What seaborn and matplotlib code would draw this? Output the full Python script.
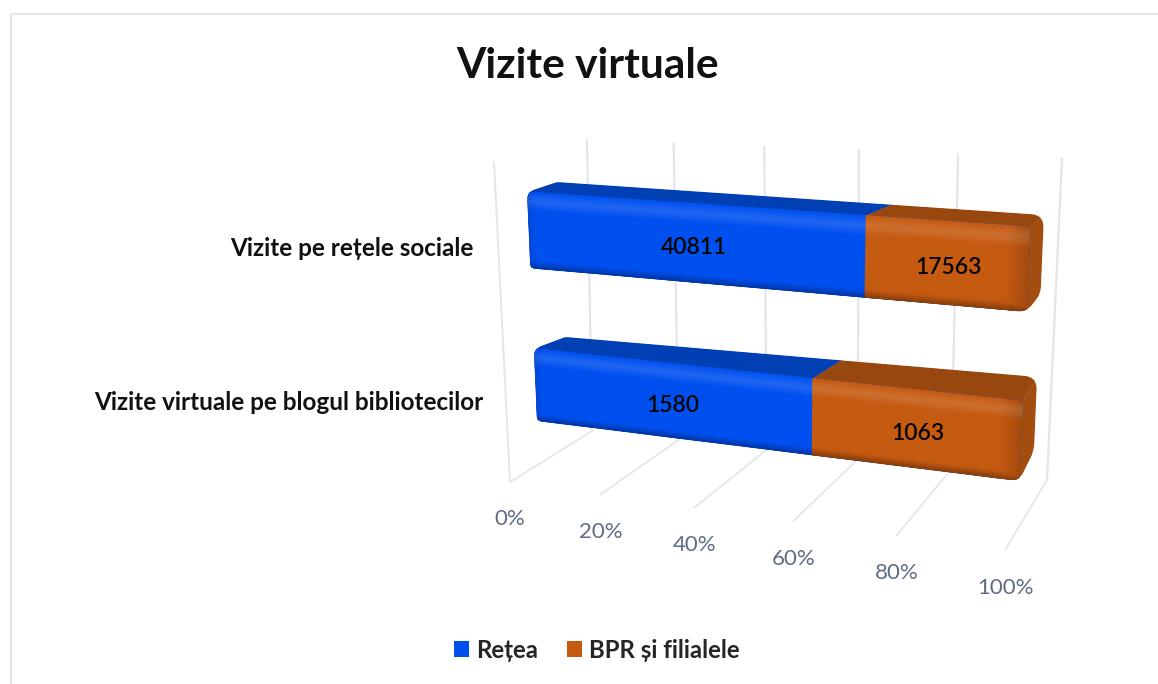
import numpy as np
import pandas as pd
import matplotlib
matplotlib.use("Agg")
import matplotlib.pyplot as plt
import matplotlib.colors as mcolors
import matplotlib.transforms as mtrans
from matplotlib.collections import QuadMesh
from matplotlib.path import Path
from matplotlib.patches import Polygon
import seaborn as sns

categories = ["Vizite pe rețele sociale", "Vizite virtuale pe blogul bibliotecilor"]
retea = [40811, 1580]
bpr = [17563, 1063]
series_names = ["Rețea", "BPR și filialele"]
tick_values = [0, 20, 40, 60, 80, 100]
tick_labels = ["0%", "20%", "40%", "60%", "80%", "100%"]
title = "Vizite virtuale"

W, H = 1158, 684
BLUE, ORANGE = "#0050F0", "#C55A11"
BLUE_TOP, ORANGE_TOP = "#0040B4", "#98480F"
ORANGE_SIDE = "#A34E10"
GRID = "#E2E5EB"
TICK = "#5E6C82"
BAR_W = 0.48
FONT = "Lato"


class Persp(mtrans.Transform):
    input_dims = output_dims = 2
    is_separable = False
    has_inverse = False

    def __init__(self, src, dst):
        super().__init__()
        A, b = [], []
        for (x, y), (X, Y) in zip(src, dst):
            Y = H - Y
            A.append([x, y, 1, 0, 0, 0, -x * X, -y * X]); b.append(X)
            A.append([0, 0, 0, x, y, 1, -x * Y, -y * Y]); b.append(Y)
        self.m = np.append(np.linalg.solve(np.array(A, float), np.array(b, float)), 1).reshape(3, 3)

    def transform_non_affine(self, v):
        v = np.asarray(v, float).reshape(-1, 2)
        q = np.c_[v, np.ones(len(v))] @ self.m.T
        return q[:, :2] / q[:, 2:]


y0, y1 = -BAR_W / 2, 1 + BAR_W / 2
corners = [(0, y0), (100, y0), (0, y1), (100, y1)]
front = Persp(corners, [(527, 192), (1030, 227), (537, 421), (1019, 481)])
rear = Persp(corners, [(557, 182), (1044, 215), (569, 408), (1034, 451)])


def proj(p, y, d):
    a = front.transform(np.array([[p, y]]))[0]
    b = rear.transform(np.array([[p, y]]))[0]
    return (1 - d) * a + d * b


def rounded(pts, radii):
    verts, codes = [], []
    n = len(pts)
    for i in range(n):
        c = np.asarray(pts[i])
        a = np.asarray(pts[i - 1])
        b = np.asarray(pts[(i + 1) % n])
        r = radii[i]
        s = c + (a - c) / np.linalg.norm(a - c) * r
        e = c + (b - c) / np.linalg.norm(b - c) * r
        verts += [s, c, e]
        codes += [Path.MOVETO if i == 0 else Path.LINETO, Path.CURVE3, Path.CURVE3]
    verts.append(verts[0])
    codes.append(Path.CLOSEPOLY)
    return Path(np.array(verts), codes)


def lerp_p(a, b, p, w=1.12):
    f = p / 100
    u = f / (f + w * (1 - f))
    return np.asarray(a) + (np.asarray(b) - np.asarray(a)) * u


def px(pt):
    return (pt[0], H - pt[1])


sns.set_theme(style="white")
plt.rcParams["font.family"] = [FONT, "DejaVu Sans"]
fig = plt.figure(figsize=(W / 100, H / 100), dpi=100, facecolor="white")
ax = fig.add_axes([0, 0, 1, 1])

total = np.array(retea) + np.array(bpr)
df = pd.DataFrame({"cat": categories,
                   "share": 100 * np.array(retea) / total,
                   "full": 100 * (np.array(retea) + np.array(bpr)) / total})

sns.barplot(data=df, y="cat", x="full", color=ORANGE, saturation=1, width=BAR_W,
            ax=ax, label=series_names[1], zorder=3, linewidth=0, edgecolor="none")
sns.barplot(data=df, y="cat", x="share", color=BLUE, saturation=1, width=BAR_W,
            ax=ax, label=series_names[0], zorder=3.1, linewidth=0, edgecolor="none")
ax.set_xlim(0, 100)
ax.set_ylim(2, -1)
ax.set_axis_off()

idt = mtrans.IdentityTransform()
rects = list(ax.patches)
n_cat = len(categories)
orange_rects, blue_rects = rects[:n_cat], rects[n_cat:]

# frame
for a, b in [((10.5, 14), (1158, 14)), ((10.5, 14), (10.5, 684))]:
    ax.plot(*zip(px(a), px(b)), color="#E4E6EA", lw=1.6, transform=idt, clip_on=False, zorder=0.5)

# wall and floor lines
F0, F1 = (510, 482), (1005, 550)
B0, B1 = (592, 431), (1047, 480)
T0, T1 = (587, 140), (1062, 158)
for v in tick_values:
    f = lerp_p(F0, F1, v); b = lerp_p(B0, B1, v, 1.07); t = lerp_p(T0, T1, v, 1.12)
    ax.plot(*zip(px(f), px(b)), color=GRID, lw=1.2, transform=idt, clip_on=False, zorder=1)
    ax.plot(*zip(px(b), px(t)), color=GRID, lw=1.6, transform=idt, clip_on=False, zorder=1)
ax.plot(*zip(px((494, 162)), px(F0)), color=GRID, lw=1.4, transform=idt, clip_on=False, zorder=1)

# tick labels
L0, L1 = (510, 519), (1005, 588)
for v, s in zip(tick_values, tick_labels):
    lp = lerp_p(L0, L1, v)
    ax.text(*px(lp), s, transform=idt, ha="center", va="center", fontsize=16,
            color=TICK, zorder=5)


def bevel_mesh(p0, p1, yt, yb, full, base):
    """Opaque shaded front face of one bar segment."""
    xe = np.unique(np.r_[np.linspace(p0, p1, 3),
                         np.linspace(0, 2, 5)[(np.linspace(0, 2, 5) >= p0) & (np.linspace(0, 2, 5) <= p1)],
                         np.linspace(full - 4, full, 5)[(np.linspace(full - 4, full, 5) >= p0)]])
    ye = np.r_[yt + (yb - yt) * np.array([0, .04, .08, .12, .16, .20, .24, .30, .85, .88, .91, .94, .97, 1.0])]
    XX, YY = np.meshgrid(xe, ye)
    TT = (YY - yt) / (yb - yt)
    white = 0.12 * np.clip(TT / 0.10, 0, 1) * np.clip((0.24 - TT) / 0.10, 0, 1)
    dark = np.maximum.reduce([0.32 * np.clip((TT - 0.90) / 0.10, 0, 1),
                              0.10 * np.clip((2 - XX) / 2, 0, 1),
                              0.16 * np.clip((XX - (full - 4)) / 4, 0, 1)])
    rgb = np.array(mcolors.to_rgb(base))
    col = rgb[None, None, :] * (1 - white - dark)[..., None] + white[..., None]
    rgba = np.dstack([col, np.ones(XX.shape)])
    mesh = QuadMesh(np.dstack([XX, YY]), shading="gouraud", transform=front, array=rgba, zorder=3.3)
    ax.add_collection(mesh, autolim=False)
    return mesh


# bars
for i, (ro, rb) in enumerate(zip(orange_rects, blue_rects)):
    yt = ro.get_y()
    yb = yt + ro.get_height()
    share = rb.get_width()
    full = ro.get_width()
    sil = rounded([proj(0, yt, 0), proj(0, yt, 1), proj(full, yt, 1), proj(full, yb, 1),
                   proj(full, yb, 0), proj(0, yb, 0)], [8, 3, 13, 8, 9, 5])
    art = []
    ro.set_transform(front); rb.set_transform(front)
    art += [ro, rb]
    for p0, p1, c in [(0, share, BLUE_TOP), (share, full, ORANGE_TOP)]:
        poly = Polygon([proj(p0, yt, 0), proj(p1, yt, 0), proj(p1, yt, 1), proj(p0, yt, 1)],
                       closed=True, fc=c, ec=c, lw=0.3, transform=idt, zorder=3.2)
        ax.add_patch(poly); art.append(poly)
    side = Polygon([proj(full, yt, 0), proj(full, yt, 1), proj(full, yb, 1), proj(full, yb, 0)],
                   closed=True, fc=ORANGE_SIDE, ec=ORANGE_SIDE, lw=0.3, transform=idt, zorder=3.2)
    ax.add_patch(side); art.append(side)

    art.append(bevel_mesh(0, share, yt, yb, full, BLUE))
    art.append(bevel_mesh(share, full, yt, yb, full, ORANGE))

    for o in art:
        o.set_clip_path(sil, idt)

    # value labels
    ym = (yt + yb) / 2
    for xval, s in [(share / 2, retea[i]), ((share + full) / 2, bpr[i])]:
        ax.annotate(str(s), xy=(xval, ym), xycoords=front, xytext=(2.6, -3.4),
                    textcoords="offset points", ha="center", va="center",
                    fontsize=16.5, color="#050505", fontweight="semibold", zorder=6)

# category labels
for s, (x, y) in zip(categories, [(474, 248), (483, 403)]):
    ax.text(*px((x, y)), s, transform=idt, ha="right", va="center", fontsize=17.5,
            fontweight="bold", color="#111111", zorder=6)

ax.text(*px((588, 66)), title, transform=idt, ha="center", va="center", fontsize=30.5,
        fontweight="bold", color="#111111", zorder=6)

h = [blue_rects[0], orange_rects[0]]
ax.legend(h, series_names, loc="center", bbox_to_anchor=(597 / W, 1 - 650 / H),
          bbox_transform=fig.transFigure, ncol=2, frameon=False,
          handlelength=0.62, handleheight=0.62, handletextpad=0.3, columnspacing=1.2,
          prop={"family": FONT, "weight": "bold", "size": 17.3})

fig.savefig("out.png", dpi=100)
